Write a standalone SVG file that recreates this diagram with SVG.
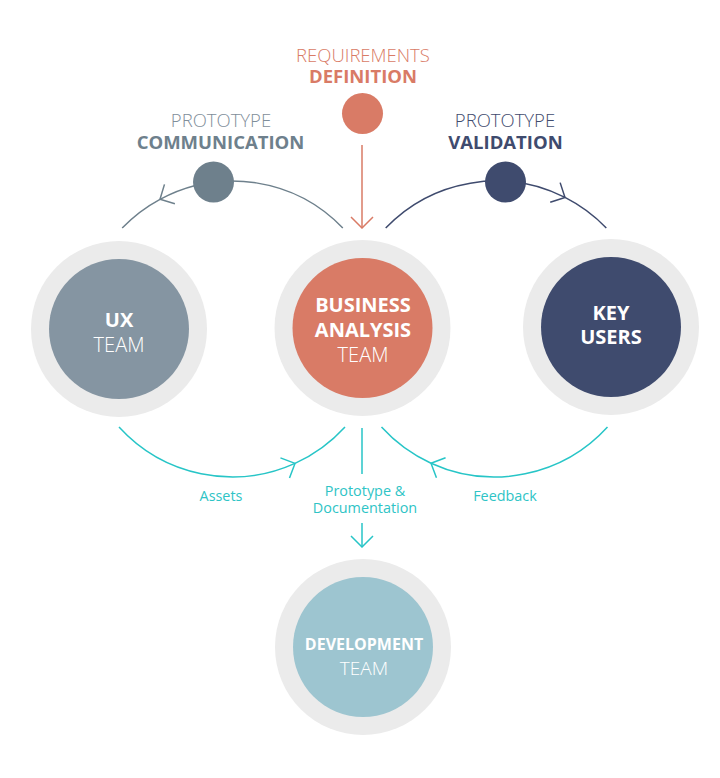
<svg xmlns="http://www.w3.org/2000/svg" width="720" height="778" viewBox="0 0 720 778">
<defs>
<style>
text{font-family:"Open Sans","Noto Sans","Liberation Sans",sans-serif;text-anchor:middle}
.b{font-weight:700}
.l{font-weight:300}
.ring{fill:#EBEBEB}
.w{fill:#FFFFFF}
.c{fill:none;stroke-width:1.5}
.lbl{font-size:14.4px;fill:#2EC4C6}
.top{font-size:18.5px}
</style>
<marker id="mS" markerUnits="userSpaceOnUse" viewBox="0 0 13 24" refX="12" refY="12" markerWidth="13" markerHeight="24" orient="auto"><path d="M1,1 L12,12 L1,23" fill="none" stroke="#D97B66" stroke-width="1.5"/></marker>
<marker id="mG" markerUnits="userSpaceOnUse" viewBox="0 0 13 24" refX="12" refY="12" markerWidth="13" markerHeight="24" orient="auto"><path d="M1,1 L12,12 L1,23" fill="none" stroke="#6E808C" stroke-width="1.5"/></marker>
<marker id="mN" markerUnits="userSpaceOnUse" viewBox="0 0 13 24" refX="12" refY="12" markerWidth="13" markerHeight="24" orient="auto"><path d="M1,1 L12,12 L1,23" fill="none" stroke="#3F4B6E" stroke-width="1.5"/></marker>
<marker id="mT" markerUnits="userSpaceOnUse" viewBox="0 0 13 24" refX="12" refY="12" markerWidth="13" markerHeight="24" orient="auto"><path d="M1,1 L12,12 L1,23" fill="none" stroke="#27C5C7" stroke-width="1.5"/></marker>
</defs>
<rect width="720" height="778" fill="#FFFFFF"/>

<g id="connectors">
<path class="c" stroke="#D97B66" d="M362,145 L362,228" marker-end="url(#mS)"/>
<path class="c" stroke="#6E808C" d="M342.8,228 A153,153 0 0 0 160,199.3" marker-end="url(#mG)"/>
<path class="c" stroke="#6E808C" d="M160,199.3 A153,153 0 0 0 122.2,228"/>
<path class="c" stroke="#3F4B6E" d="M385.7,228 A153,153 0 0 1 565,197.4" marker-end="url(#mN)"/>
<path class="c" stroke="#3F4B6E" d="M565,197.4 A153,153 0 0 1 606.3,228"/>
<path class="c" stroke="#27C5C7" d="M119,427 A153,153 0 0 0 295,463.4" marker-end="url(#mT)"/>
<path class="c" stroke="#27C5C7" d="M295,463.4 A153,153 0 0 0 345,427"/>
<path class="c" stroke="#27C5C7" d="M607.5,427 A153,153 0 0 1 431,463.2" marker-end="url(#mT)"/>
<path class="c" stroke="#27C5C7" d="M431,463.2 A153,153 0 0 1 381.5,427"/>
<path class="c" stroke="#27C5C7" d="M362,428 L362,474"/>
<path class="c" stroke="#27C5C7" d="M362,523 L362,547" marker-end="url(#mT)"/>
<text class="lbl" x="221" y="501">Assets</text>
<text class="lbl" x="365" y="496">Prototype &amp;</text>
<text class="lbl" x="365" y="512.5">Documentation</text>
<text class="lbl" x="505" y="501">Feedback</text>
</g>

<g id="requirements-definition">
<circle cx="362.5" cy="113.5" r="20.5" fill="#D97B66"/>
<text class="top l" x="363" y="61.5" fill="#D97B66">REQUIREMENTS</text>
<text class="top b" x="363" y="83" fill="#D97B66">DEFINITION</text>
</g>

<g id="prototype-communication">
<circle cx="213.5" cy="182" r="20.5" fill="#6E808C"/>
<text class="top l" x="221" y="127" fill="#7F8E9A">PROTOTYPE</text>
<text class="top b" x="220.5" y="149" fill="#6E808C">COMMUNICATION</text>
</g>

<g id="prototype-validation">
<circle cx="505.5" cy="182" r="20.5" fill="#3F4B6E"/>
<text class="top l" x="505" y="127" fill="#3F4B6E">PROTOTYPE</text>
<text class="top b" x="505.5" y="149" fill="#3F4B6E">VALIDATION</text>
</g>

<g id="ux-team">
<circle class="ring" cx="119" cy="329" r="88"/>
<circle cx="119" cy="329" r="70" fill="#8595A2"/>
<text class="w b" x="119" y="327" font-size="20">UX</text>
<text class="w l" x="119" y="352" font-size="20">TEAM</text>
</g>

<g id="business-analysis-team">
<circle class="ring" cx="362.5" cy="328" r="88"/>
<circle cx="362.5" cy="328" r="70" fill="#D97B66"/>
<text class="w b" x="363" y="312" font-size="20">BUSINESS</text>
<text class="w b" x="363" y="337" font-size="20">ANALYSIS</text>
<text class="w l" x="363" y="362" font-size="20">TEAM</text>
</g>

<g id="key-users">
<circle class="ring" cx="611" cy="327" r="88"/>
<circle cx="611" cy="327" r="70" fill="#3F4B6E"/>
<text class="w b" x="611" y="320" font-size="20">KEY</text>
<text class="w b" x="611" y="344" font-size="20">USERS</text>
</g>

<g id="development-team">
<circle class="ring" cx="363" cy="647" r="88"/>
<circle cx="363" cy="647" r="70" fill="#9DC5D0"/>
<text class="w b" x="364" y="650" font-size="16">DEVELOPMENT</text>
<text class="w l" x="364" y="675" font-size="19">TEAM</text>
</g>
</svg>
